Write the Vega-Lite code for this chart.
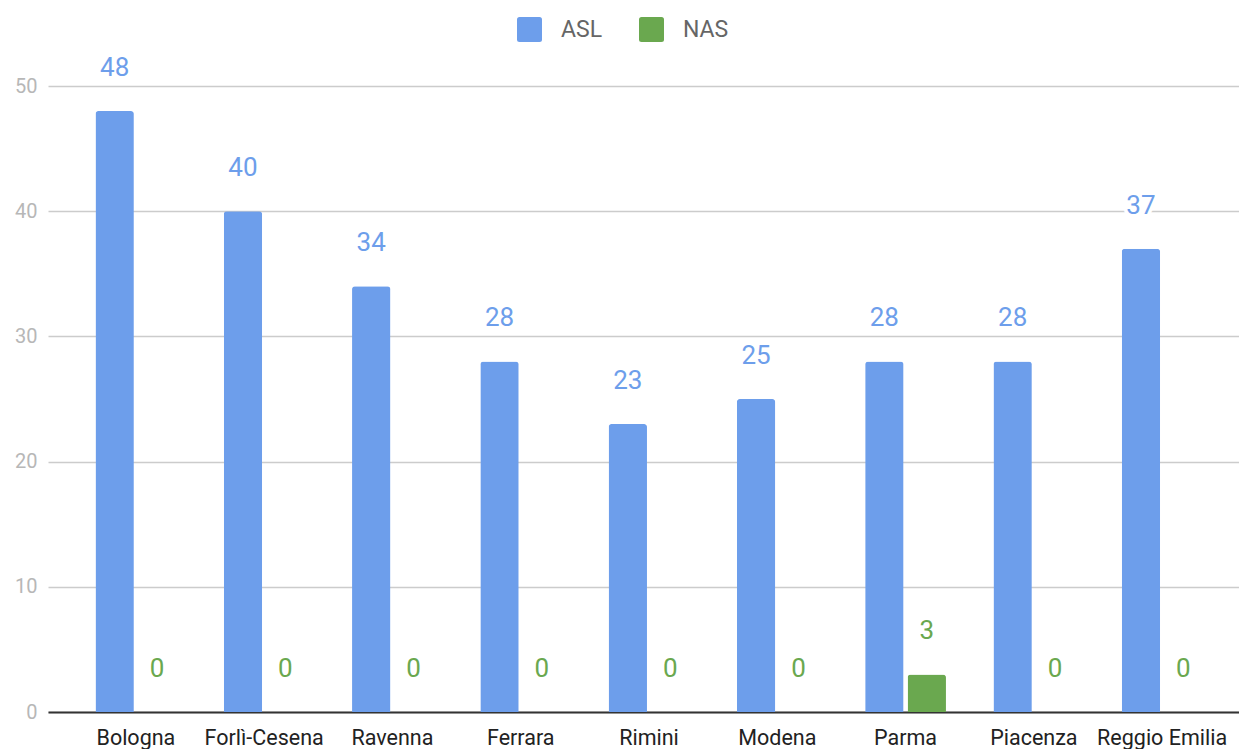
{
  "$schema": "https://vega.github.io/schema/vega-lite/v6.json",
  "width": 1202,
  "height": 626,
  "autosize": {"type": "none"},
  "padding": {"left": 48, "top": 86, "right": 0, "bottom": 37},
  "config": {"font": "Roboto", "view": {"stroke": null}},
  "data": {
    "values": [
      {"region": "Bologna", "series": "ASL", "value": 48},
      {"region": "Bologna", "series": "NAS", "value": 0},
      {"region": "Forlì-Cesena", "series": "ASL", "value": 40},
      {"region": "Forlì-Cesena", "series": "NAS", "value": 0},
      {"region": "Ravenna", "series": "ASL", "value": 34},
      {"region": "Ravenna", "series": "NAS", "value": 0},
      {"region": "Ferrara", "series": "ASL", "value": 28},
      {"region": "Ferrara", "series": "NAS", "value": 0},
      {"region": "Rimini", "series": "ASL", "value": 23},
      {"region": "Rimini", "series": "NAS", "value": 0},
      {"region": "Modena", "series": "ASL", "value": 25},
      {"region": "Modena", "series": "NAS", "value": 0},
      {"region": "Parma", "series": "ASL", "value": 28},
      {"region": "Parma", "series": "NAS", "value": 3},
      {"region": "Piacenza", "series": "ASL", "value": 28},
      {"region": "Piacenza", "series": "NAS", "value": 0},
      {"region": "Reggio Emilia", "series": "ASL", "value": 37},
      {"region": "Reggio Emilia", "series": "NAS", "value": 0}
    ]
  },
  "encoding": {
    "x": {
      "field": "region", "type": "nominal", "sort": null,
      "scale": {"paddingInner": 0.37, "paddingOuter": 0.37},
      "axis": {"title": null, "labelAngle": 0, "labelFontSize": 21.5, "labelColor": "#222222", "ticks": false, "domainColor": "#333333", "domainWidth": 2, "labelPadding": 15, "labelOverlap": false, "labelLimit": 300}
    },
    "xOffset": {"field": "series", "type": "nominal", "scale": {"paddingInner": 0.095}},
    "y": {
      "field": "value", "type": "quantitative",
      "scale": {"domain": [0, 50], "nice": false},
      "axis": {"title": null, "domain": false, "ticks": false, "values": [0, 10, 20, 30, 40, 50], "labelFontSize": 20, "labelColor": "#b7b7b7", "labelPadding": 11, "gridColor": "#cccccc", "gridWidth": 1.5}
    }
  },
  "layer": [
    {
      "mark": {"type": "bar", "cornerRadiusEnd": 3},
      "encoding": {
        "color": {
          "field": "series", "type": "nominal",
          "scale": {"domain": ["ASL", "NAS"], "range": ["#6d9eeb", "#6aa84f"]},
          "legend": {
            "orient": "none", "legendX": 469, "legendY": -69, "direction": "horizontal", "title": null,
            "symbolType": "M -0.8 -1 H 0.8 Q 1 -1 1 -0.8 V 0.8 Q 1 1 0.8 1 H -0.8 Q -1 1 -1 0.8 V -0.8 Q -1 -1 -0.8 -1 Z",
            "symbolSize": 625, "symbolOpacity": 1, "symbolStrokeWidth": 0,
            "labelFontSize": 23, "labelColor": "#666666", "columnPadding": 36, "labelOffset": 19
          }
        }
      }
    },
    {
      "mark": {"type": "text", "baseline": "bottom", "dy": -30, "fontSize": 26, "stroke": "white", "strokeWidth": 7, "fill": "white"},
      "encoding": {"text": {"field": "value", "type": "quantitative"}}
    },
    {
      "mark": {"type": "text", "baseline": "bottom", "dy": -30, "fontSize": 26},
      "encoding": {
        "text": {"field": "value", "type": "quantitative"},
        "color": {"field": "series", "type": "nominal", "scale": {"domain": ["ASL", "NAS"], "range": ["#6d9eeb", "#6aa84f"]}}
      }
    }
  ]
}
